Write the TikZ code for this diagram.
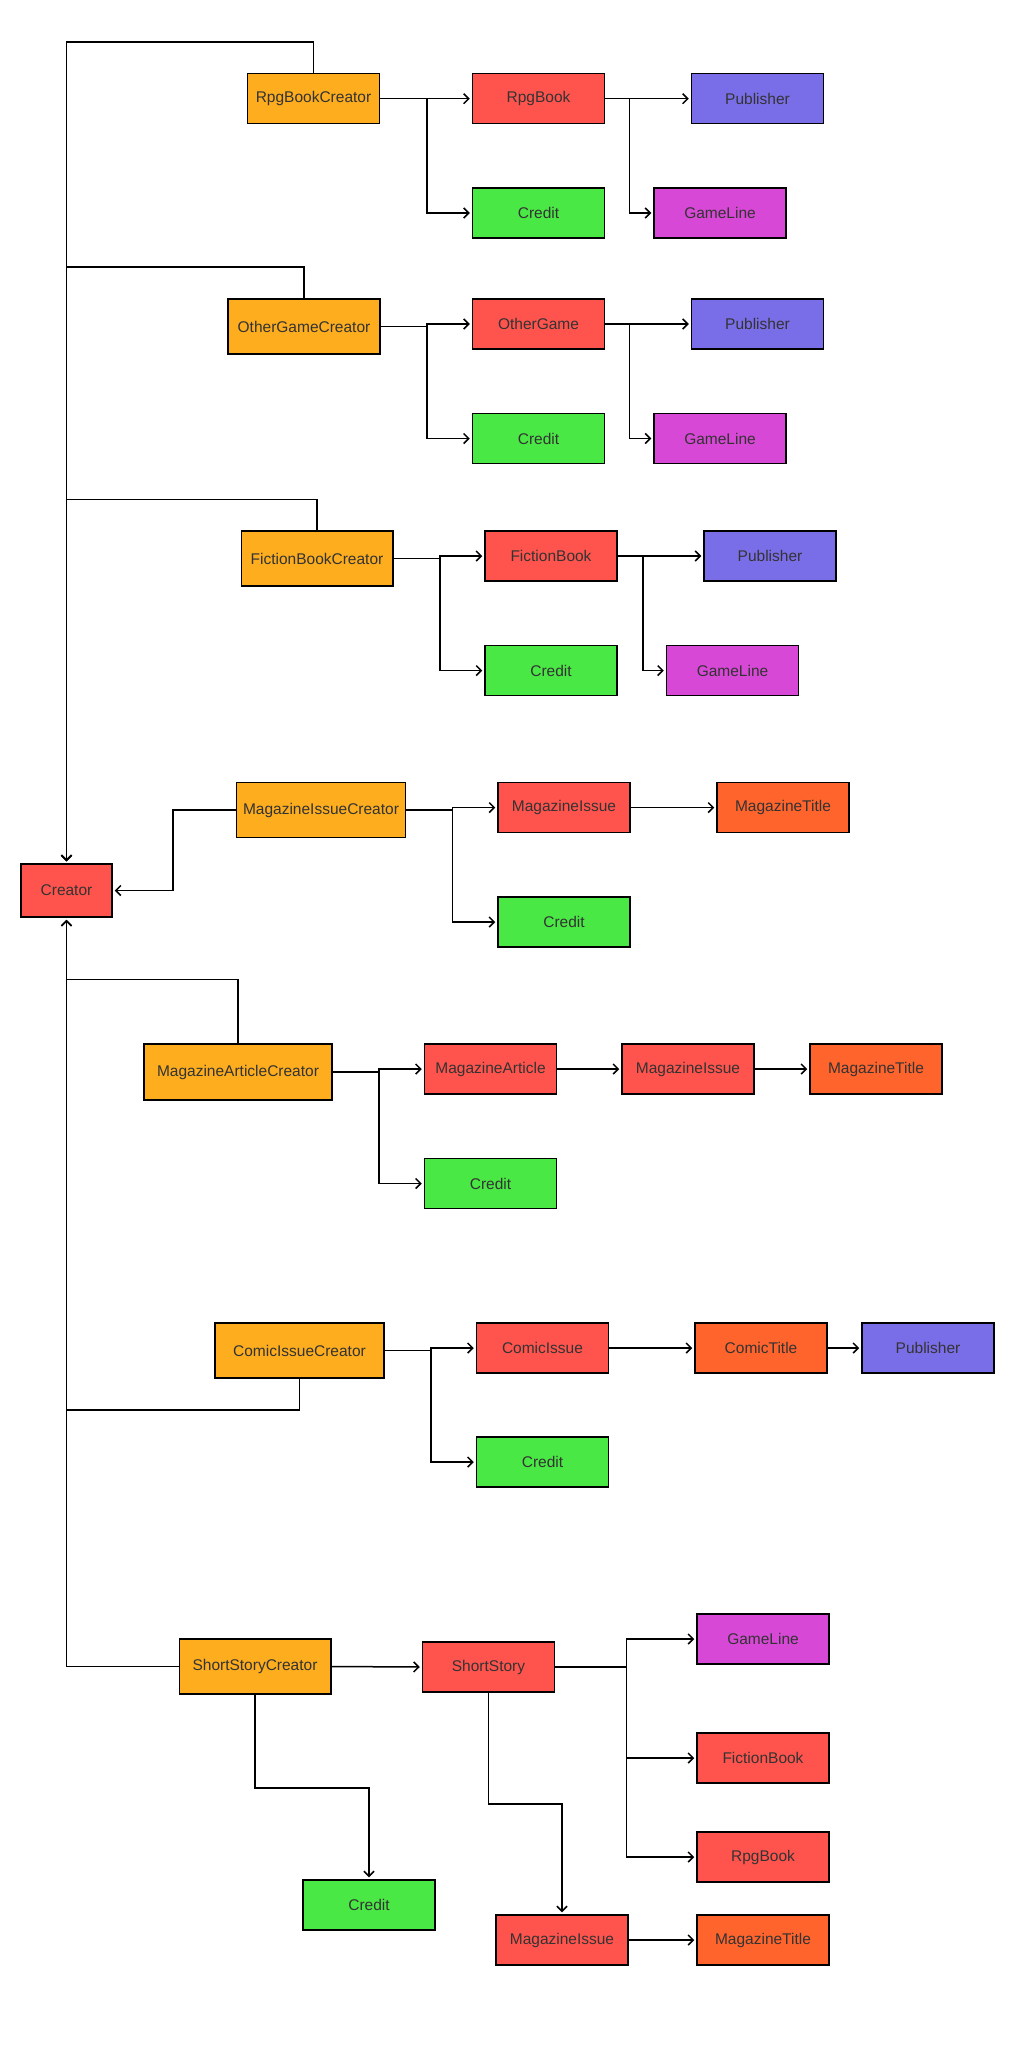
\documentclass[tikz,border=0pt]{standalone}
\usepackage{fontspec}
\setmainfont{Liberation Sans}
\usepackage{tikz}
\usetikzlibrary{arrows.meta}
\usepackage{xcolor}

\begin{document}
\begin{tikzpicture}[x=1pt, y=-1pt, >={Straight Barb[length=5pt,width=10pt]},
        box/.style={draw=black, line width=1.5pt, minimum width=132, minimum height=50,
            text=black!80, font=\fontsize{15.5}{18}\selectfont},
        link/.style={line width=1.5pt, shorten >=2pt}]
        % Define colors - one per kind of entity
        \definecolor{creatorfill}{RGB}{253,173,30}
        \definecolor{entityfill}{RGB}{255,84,77}
        \definecolor{creditfill}{RGB}{74,232,69}
        \definecolor{publisherfill}{RGB}{122,110,232}
        \definecolor{gamelinefill}{RGB}{216,72,214}
        \definecolor{titlefill}{RGB}{255,100,45}

        \useasboundingbox (0,0) rectangle (1024,2048);

        % Central node
        \node[box, fill=entityfill, minimum width=91, minimum height=53] (creator) at (66.5,890.5) {Creator};

        % 1. RpgBook branch
        \node[box, fill=creatorfill] (rpgCreator) at (313.5,98.7) {RpgBookCreator};
        \node[box, fill=entityfill] (rpgBook) at (538.5,98.7) {RpgBook};
        \node[box, fill=publisherfill] (rpgPub) at (757.5,98.7) {Publisher};
        \node[box, fill=creditfill] (rpgCredit) at (538.5,213) {Credit};
        \node[box, fill=gamelinefill] (rpgLine) at (720,213) {GameLine};

        % 2. OtherGame branch
        \node[box, fill=creatorfill, minimum width=152, minimum height=55] (ogCreator) at (304,326.6) {OtherGameCreator};
        \node[box, fill=entityfill] (ogGame) at (538.5,324) {OtherGame};
        \node[box, fill=publisherfill] (ogPub) at (757.5,324) {Publisher};
        \node[box, fill=creditfill] (ogCredit) at (538.5,438.5) {Credit};
        \node[box, fill=gamelinefill] (ogLine) at (720,438.5) {GameLine};

        % 3. FictionBook branch
        \node[box, fill=creatorfill, minimum width=151.5, minimum height=55] (fbCreator) at (317,558.7) {FictionBookCreator};
        \node[box, fill=entityfill] (fbBook) at (551,556) {FictionBook};
        \node[box, fill=publisherfill] (fbPub) at (770,556) {Publisher};
        \node[box, fill=creditfill] (fbCredit) at (551,670.6) {Credit};
        \node[box, fill=gamelinefill] (fbLine) at (732.5,670.6) {GameLine};

        % 4. MagazineIssue branch
        \node[box, fill=creatorfill, minimum width=169, minimum height=55] (miCreator) at (321,810) {MagazineIssueCreator};
        \node[box, fill=entityfill] (miIssue) at (564,807.6) {MagazineIssue};
        \node[box, fill=titlefill] (miTitle) at (783,807.6) {MagazineTitle};
        \node[box, fill=creditfill] (miCredit) at (564,922) {Credit};

        % 5. MagazineArticle branch
        \node[box, fill=creatorfill, minimum width=188, minimum height=56] (maCreator) at (238,1072) {MagazineArticleCreator};
        \node[box, fill=entityfill] (maArticle) at (490.5,1069) {MagazineArticle};
        \node[box, fill=entityfill] (maIssue) at (688,1069) {MagazineIssue};
        \node[box, fill=titlefill] (maTitle) at (876,1069) {MagazineTitle};
        \node[box, fill=creditfill] (maCredit) at (490.5,1183.5) {Credit};

        % 6. ComicIssue branch
        \node[box, fill=creatorfill, minimum width=169, minimum height=55] (ciCreator) at (299.5,1350.6) {ComicIssueCreator};
        \node[box, fill=entityfill] (ciIssue) at (542.5,1348) {ComicIssue};
        \node[box, fill=titlefill] (ciTitle) at (761,1348) {ComicTitle};
        \node[box, fill=publisherfill] (ciPub) at (928,1348) {Publisher};
        \node[box, fill=creditfill] (ciCredit) at (542.5,1462) {Credit};

        % 7. ShortStory branch
        \node[box, fill=creatorfill, minimum width=151.5, minimum height=55] (ssCreator) at (255,1666.5) {ShortStoryCreator};
        \node[box, fill=entityfill] (ssStory) at (488.5,1667) {ShortStory};
        \node[box, fill=gamelinefill] (ssLine) at (763,1639) {GameLine};
        \node[box, fill=entityfill] (ssFiction) at (763,1758) {FictionBook};
        \node[box, fill=entityfill] (ssRpg) at (763,1857) {RpgBook};
        \node[box, fill=creditfill] (ssCredit) at (369,1905) {Credit};
        \node[box, fill=entityfill] (ssIssue) at (562,1940) {MagazineIssue};
        \node[box, fill=titlefill] (ssTitle) at (763,1940) {MagazineTitle};

        % Creators into Creator
        \draw[link, ->] (rpgCreator.north) -- ++(0,-31) -| (creator.north);
        \draw[link, ->] (ogCreator.north) -- ++(0,-31.6) -| (creator.north);
        \draw[link, ->] (fbCreator.north) -- ++(0,-31) -| (creator.north);
        \draw[link, ->] (miCreator.west) -- ++(-63,0) |- (creator.east);
        \draw[link, ->] (maCreator.north) -- ++(0,-64) -| (creator.south);
        \draw[link, ->] (ciCreator.south) -- ++(0,31) -| (creator.south);
        \draw[link, ->] (ssCreator.west) -| (creator.south);

        % Creator to entity and credit
        \draw[link, ->] (rpgCreator.east) -- ++(46.5,0) |- (rpgBook.west);
        \draw[link, ->] (rpgCreator.east) -- ++(46.5,0) |- (rpgCredit.west);
        \draw[link, ->] (ogCreator.east) -- ++(46,0) |- (ogGame.west);
        \draw[link, ->] (ogCreator.east) -- ++(46,0) |- (ogCredit.west);
        \draw[link, ->] (fbCreator.east) -- ++(46.5,0) |- (fbBook.west);
        \draw[link, ->] (fbCreator.east) -- ++(46.5,0) |- (fbCredit.west);
        \draw[link, ->] (miCreator.east) -- ++(46.4,0) |- (miIssue.west);
        \draw[link, ->] (miCreator.east) -- ++(46.4,0) |- (miCredit.west);
        \draw[link, ->] (maCreator.east) -- ++(46,0) |- (maArticle.west);
        \draw[link, ->] (maCreator.east) -- ++(46,0) |- (maCredit.west);
        \draw[link, ->] (ciCreator.east) -- ++(46,0) |- (ciIssue.west);
        \draw[link, ->] (ciCreator.east) -- ++(46,0) |- (ciCredit.west);
        \draw[link, ->] (ssCreator.east) -- (ssStory.west);
        \draw[link, ->] (ssCreator.south) -- ++(0,93) -| (ssCredit.north);

        % Entity to publisher, game line and title
        \draw[link, ->] (rpgBook.east) -- (rpgPub.west);
        \draw[link, ->] (rpgBook.east) -- ++(24,0) |- (rpgLine.west);
        \draw[link, ->] (ogGame.east) -- (ogPub.west);
        \draw[link, ->] (ogGame.east) -- ++(24,0) |- (ogLine.west);
        \draw[link, ->] (fbBook.east) -- (fbPub.west);
        \draw[link, ->] (fbBook.east) -- ++(25,0) |- (fbLine.west);
        \draw[link, ->] (miIssue) -- (miTitle);
        \draw[link, ->] (maArticle) -- (maIssue);
        \draw[link, ->] (maIssue) -- (maTitle);
        \draw[link, ->] (ciIssue) -- (ciTitle);
        \draw[link, ->] (ciTitle) -- (ciPub);
        \draw[link, ->] (ssStory.east) -- ++(71,0) |- (ssLine.west);
        \draw[link, ->] (ssStory.east) -- ++(71,0) |- (ssFiction.west);
        \draw[link, ->] (ssStory.east) -- ++(71,0) |- (ssRpg.west);
        \draw[link, ->] (ssStory.south) -- ++(0,111) -| (ssIssue.north);
        \draw[link, ->] (ssIssue) -- (ssTitle);
    \end{tikzpicture}
\end{document}
